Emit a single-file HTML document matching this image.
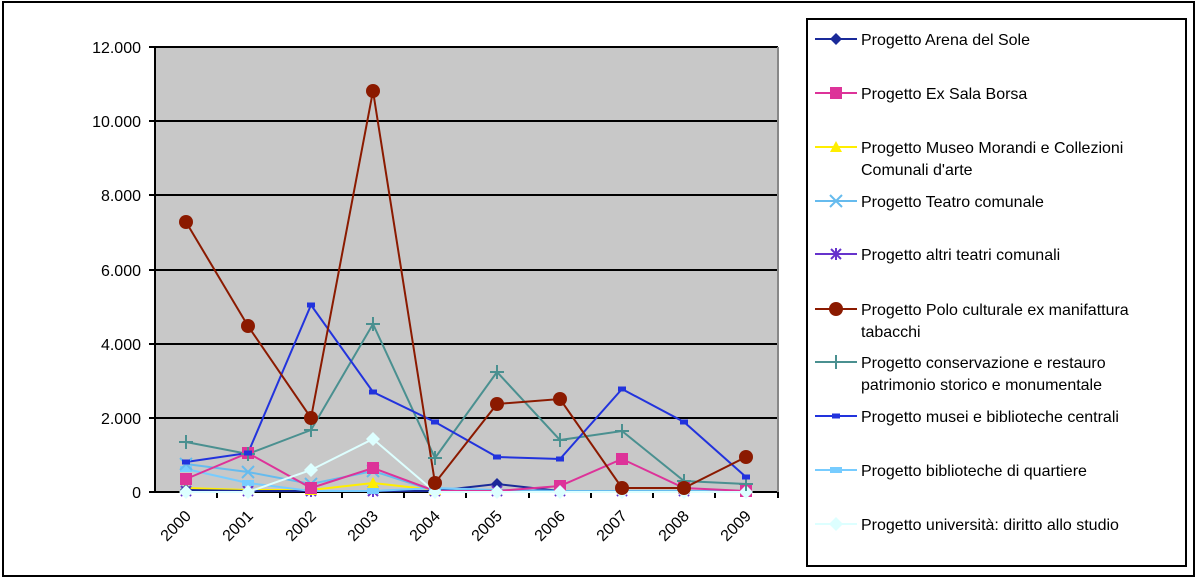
<!DOCTYPE html>
<html><head><meta charset="utf-8"><style>
html,body{margin:0;padding:0;background:#fff;}
svg{display:block;font-family:"Liberation Sans",Arial,sans-serif;}
</style></head><body>
<svg width="1200" height="579" viewBox="0 0 1200 579" xmlns="http://www.w3.org/2000/svg">
<defs>
<g id="dia"><path d="M0,-6 L6,0 L0,6 L-6,0Z" fill="#1a2a99"/></g>
<g id="sq"><rect x="-6" y="-6" width="12" height="12" fill="#dd3399"/></g>
<g id="tri"><path d="M0,-6 L6,5 L-6,5Z" fill="#ffee00"/></g>
<g id="xx"><path d="M-6,-6 L6,6 M-6,6 L6,-6" stroke="#66bbee" stroke-width="2"/></g>
<g id="ast"><path d="M-5,-5 L5,5 M-5,5 L5,-5 M0,-6 L0,6" stroke="#6633cc" stroke-width="2"/></g>
<g id="cir"><circle r="7" fill="#8b1a00"/></g>
<g id="pl"><path d="M-7,0 L7,0 M0,-7 L0,7" stroke="#4a9090" stroke-width="2"/></g>
<g id="bar"><rect x="-4" y="-2.5" width="8" height="5" fill="#2233dd"/></g>
<g id="bq"><rect x="-6" y="-3" width="12" height="6" fill="#77ccff"/></g>
<g id="dw"><path d="M0,-7 L7,0 L0,7 L-7,0Z" fill="#ddffff"/></g>
</defs>
<rect x="3" y="2" width="1191" height="574" fill="#fff" stroke="#000" stroke-width="2"/>
<rect x="155" y="47" width="623" height="445" fill="#c8c8c8"/>
<g stroke="#000" stroke-width="2">
<line x1="155" y1="47" x2="778" y2="47"/>
<line x1="155" y1="121" x2="778" y2="121"/>
<line x1="155" y1="195" x2="778" y2="195"/>
<line x1="155" y1="270" x2="778" y2="270"/>
<line x1="155" y1="344" x2="778" y2="344"/>
<line x1="155" y1="418" x2="778" y2="418"/>
<line x1="155" y1="492" x2="778" y2="492"/>
<line x1="155" y1="47" x2="155" y2="492"/>
<line x1="149" y1="47" x2="155" y2="47"/><line x1="149" y1="121" x2="155" y2="121"/><line x1="149" y1="195" x2="155" y2="195"/><line x1="149" y1="270" x2="155" y2="270"/><line x1="149" y1="344" x2="155" y2="344"/><line x1="149" y1="418" x2="155" y2="418"/><line x1="149" y1="492" x2="155" y2="492"/>
<line x1="217" y1="492" x2="217" y2="498"/><line x1="280" y1="492" x2="280" y2="498"/><line x1="342" y1="492" x2="342" y2="498"/><line x1="404" y1="492" x2="404" y2="498"/><line x1="466" y1="492" x2="466" y2="498"/><line x1="529" y1="492" x2="529" y2="498"/><line x1="591" y1="492" x2="591" y2="498"/><line x1="653" y1="492" x2="653" y2="498"/><line x1="715" y1="492" x2="715" y2="498"/><line x1="778" y1="492" x2="778" y2="498"/>
</g>
<line x1="778" y1="47" x2="778" y2="492" stroke="#888" stroke-width="2"/>
<g font-size="16" text-anchor="end" fill="#000">
<text x="141" y="53">12.000</text><text x="141" y="127">10.000</text><text x="141" y="201">8.000</text><text x="141" y="276">6.000</text><text x="141" y="350">4.000</text><text x="141" y="424">2.000</text><text x="141" y="498">0</text>
</g>
<g font-size="16" fill="#000" text-anchor="end">
<text transform="translate(192,517) rotate(-45)">2000</text>
<text transform="translate(254,517) rotate(-45)">2001</text>
<text transform="translate(317,517) rotate(-45)">2002</text>
<text transform="translate(379,517) rotate(-45)">2003</text>
<text transform="translate(441,517) rotate(-45)">2004</text>
<text transform="translate(503,517) rotate(-45)">2005</text>
<text transform="translate(566,517) rotate(-45)">2006</text>
<text transform="translate(628,517) rotate(-45)">2007</text>
<text transform="translate(690,517) rotate(-45)">2008</text>
<text transform="translate(752,517) rotate(-45)">2009</text>
</g>
<g fill="none" stroke-width="2">
<polyline stroke="#6633cc" points="186,491 248,491 311,491 373,491 435,491 497,491 560,491 622,491 684,491 746,491"/>
<polyline stroke="#ffee00" points="186,488 248,490 311,490 373,483 435,490 497,492 560,492 622,492 684,492 746,492"/>
<polyline stroke="#1a2a99" points="186,490 248,491 311,491 373,491 435,491 497,484 560,491 622,491 684,491 746,491"/>
<polyline stroke="#77ccff" points="186,469 248,483 311,491 373,491 435,488 497,490 560,491 622,491 684,491 746,491"/>
<polyline stroke="#66bbee" points="186,464 248,472 311,484 373,471 435,491 497,490 560,491 622,491 684,491 746,491"/>
<polyline stroke="#dd3399" points="186,479 248,453 311,488 373,468 435,491 497,491 560,486 622,459 684,488 746,491"/>
<polyline stroke="#ddffff" points="186,492 248,492 311,470 373,439 435,492 497,492 560,492 622,492 684,492 746,492"/>
<polyline stroke="#4a9090" points="186,442 248,454 311,430 373,324 435,458 497,372 560,440 622,431 684,481 746,484"/>
<polyline stroke="#2233dd" points="186,462 248,453 311,305 373,392 435,422 497,457 560,459 622,389 684,422 746,477"/>
<polyline stroke="#8b1a00" points="186,222 248,326 311,418 373,91 435,483 497,404 560,399 622,488 684,488 746,457"/>
</g>
<g>
<use href="#ast" x="186" y="491"/><use href="#ast" x="248" y="491"/><use href="#ast" x="311" y="491"/><use href="#ast" x="373" y="491"/><use href="#ast" x="435" y="491"/><use href="#ast" x="497" y="491"/><use href="#ast" x="560" y="491"/><use href="#ast" x="622" y="491"/><use href="#ast" x="684" y="491"/><use href="#ast" x="746" y="491"/>
<use href="#tri" x="186" y="488"/><use href="#tri" x="311" y="490"/><use href="#tri" x="373" y="483"/><use href="#tri" x="435" y="490"/>
<use href="#dia" x="186" y="490"/><use href="#dia" x="497" y="484"/>
<use href="#bq" x="186" y="469"/><use href="#bq" x="248" y="483"/><use href="#bq" x="311" y="491"/><use href="#bq" x="373" y="491"/><use href="#bq" x="435" y="488"/>
<use href="#xx" x="186" y="464"/><use href="#xx" x="248" y="472"/><use href="#xx" x="311" y="484"/><use href="#xx" x="373" y="471"/>
<use href="#sq" x="186" y="479"/><use href="#sq" x="248" y="453"/><use href="#sq" x="311" y="488"/><use href="#sq" x="373" y="468"/><use href="#sq" x="560" y="486"/><use href="#sq" x="622" y="459"/><use href="#sq" x="684" y="488"/><use href="#sq" x="746" y="491"/>
<use href="#dw" x="186" y="492"/><use href="#dw" x="248" y="492"/><use href="#dw" x="311" y="470"/><use href="#dw" x="373" y="439"/><use href="#dw" x="435" y="492"/><use href="#dw" x="497" y="492"/><use href="#dw" x="560" y="492"/><use href="#dw" x="622" y="492"/><use href="#dw" x="684" y="492"/><use href="#dw" x="746" y="492"/>
<use href="#pl" x="186" y="442"/><use href="#pl" x="248" y="454"/><use href="#pl" x="311" y="430"/><use href="#pl" x="373" y="324"/><use href="#pl" x="435" y="458"/><use href="#pl" x="497" y="372"/><use href="#pl" x="560" y="440"/><use href="#pl" x="622" y="431"/><use href="#pl" x="684" y="481"/><use href="#pl" x="746" y="484"/>
<use href="#bar" x="186" y="462"/><use href="#bar" x="248" y="453"/><use href="#bar" x="311" y="305"/><use href="#bar" x="373" y="392"/><use href="#bar" x="435" y="422"/><use href="#bar" x="497" y="457"/><use href="#bar" x="560" y="459"/><use href="#bar" x="622" y="389"/><use href="#bar" x="684" y="422"/><use href="#bar" x="746" y="477"/>
<use href="#cir" x="186" y="222"/><use href="#cir" x="248" y="326"/><use href="#cir" x="311" y="418"/><use href="#cir" x="373" y="91"/><use href="#cir" x="435" y="483"/><use href="#cir" x="497" y="404"/><use href="#cir" x="560" y="399"/><use href="#cir" x="622" y="488"/><use href="#cir" x="684" y="488"/><use href="#cir" x="746" y="457"/>
</g>
<rect x="807" y="19" width="379" height="547" fill="#fff" stroke="#000" stroke-width="2"/>
<g stroke-width="2">
<line x1="815" y1="39" x2="857" y2="39" stroke="#1a2a99"/><use href="#dia" x="836" y="39"/>
<line x1="815" y1="93" x2="857" y2="93" stroke="#dd3399"/><use href="#sq" x="836" y="93"/>
<line x1="815" y1="147" x2="857" y2="147" stroke="#ffee00"/><use href="#tri" x="836" y="147"/>
<line x1="815" y1="201" x2="857" y2="201" stroke="#66bbee"/><use href="#xx" x="836" y="201"/>
<line x1="815" y1="254" x2="857" y2="254" stroke="#6633cc"/><use href="#ast" x="836" y="254"/>
<line x1="815" y1="309" x2="857" y2="309" stroke="#8b1a00"/><use href="#cir" x="836" y="309"/>
<line x1="815" y1="362" x2="857" y2="362" stroke="#4a9090"/><use href="#pl" x="836" y="362"/>
<line x1="815" y1="416" x2="857" y2="416" stroke="#2233dd"/><use href="#bar" x="836" y="416"/>
<line x1="815" y1="470" x2="857" y2="470" stroke="#77ccff"/><use href="#bq" x="836" y="470"/>
<line x1="815" y1="524" x2="857" y2="524" stroke="#ddffff"/><use href="#dw" x="836" y="524"/>
</g>
<g font-size="16" fill="#000">
<text x="861" y="45">Progetto Arena del Sole</text>
<text x="861" y="99">Progetto Ex Sala Borsa</text>
<text x="861" y="153">Progetto Museo Morandi e Collezioni</text>
<text x="861" y="175">Comunali d'arte</text>
<text x="861" y="207">Progetto Teatro comunale</text>
<text x="861" y="260">Progetto altri teatri comunali</text>
<text x="861" y="315">Progetto Polo culturale ex manifattura</text>
<text x="861" y="337">tabacchi</text>
<text x="861" y="368">Progetto conservazione e restauro</text>
<text x="861" y="390">patrimonio storico e monumentale</text>
<text x="861" y="422">Progetto musei e biblioteche centrali</text>
<text x="861" y="476">Progetto biblioteche di quartiere</text>
<text x="861" y="530">Progetto università: diritto allo studio</text>
</g>
</svg>
</body></html>
